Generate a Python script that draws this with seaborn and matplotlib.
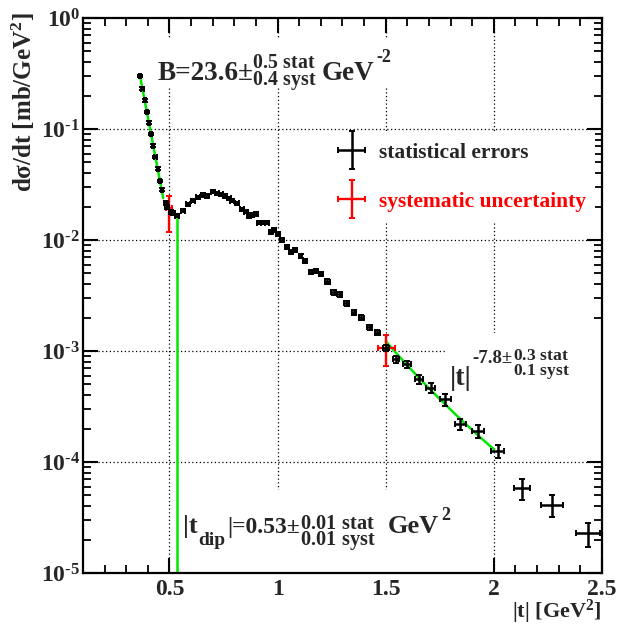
import numpy as np
import matplotlib
matplotlib.use("Agg")
import matplotlib.pyplot as plt
import seaborn as sns
from matplotlib.patches import Rectangle
from matplotlib.container import ErrorbarContainer
from matplotlib.legend_handler import HandlerErrorbar
from matplotlib.ticker import FixedLocator, FuncFormatter, LogLocator, MultipleLocator, NullFormatter

##################################  DATA  #####################################

# |t| [GeV^2] bin centres and d(sigma)/dt [mb/GeV^2]
t_vals = [0.365, 0.375, 0.385, 0.395, 0.405, 0.415, 0.425, 0.435, 0.445, 0.455, 0.465,
          0.483, 0.489, 0.506, 0.515, 0.534, 0.562, 0.585, 0.608, 0.631, 0.654,
          0.672, 0.700, 0.719, 0.737, 0.756, 0.774, 0.788, 0.811, 0.834, 0.853,
          0.866, 0.880, 0.899, 0.913, 0.931, 0.950,
          0.968, 0.983, 1.002, 1.022, 1.043, 1.060, 1.082, 1.106, 1.128, 1.153, 1.179, 1.202,
          1.230, 1.259, 1.287, 1.320, 1.353, 1.387, 1.425, 1.461,
          1.502,
          1.548, 1.599, 1.653, 1.707, 1.775, 1.845, 1.925, 2.017, 2.128, 2.267, 2.436]
dsig_vals = [0.300, 0.231, 0.181, 0.143, 0.114, 0.090, 0.071, 0.056, 0.044, 0.034, 0.0285,
             0.0216, 0.0198, 0.0179, 0.0174, 0.0166, 0.0184, 0.0210, 0.0226, 0.0243, 0.0254,
             0.0249, 0.0272, 0.0263, 0.0258, 0.0249, 0.0237, 0.0226, 0.0214, 0.0189, 0.0180,
             0.0164, 0.0168, 0.0172, 0.0143, 0.0143, 0.0143,
             0.0119, 0.0123, 0.0113, 0.0100, 0.0087, 0.00785, 0.00813, 0.00718, 0.00651, 0.00512, 0.00526, 0.00494,
             0.00421, 0.00338, 0.00324, 0.00269, 0.00221, 0.00200, 0.00163, 0.00146,
             0.00107,
             0.000841, 0.000759, 0.000556, 0.000467, 0.000367, 0.000219, 0.000191, 0.000126,
             5.8e-5, 4.1e-5, 2.28e-5]
# bin half widths [GeV^2]
t_halfwidth = ([0.005] * 11 + [0.009] * 26 + [0.009] * 12 + [0.011] * 8 + [0.013] +
               [0.014, 0.017, 0.018, 0.021, 0.025, 0.025, 0.028, 0.031, 0.037, 0.051, 0.055])
# statistical errors [%]
stat_err_pct = ([2.5] * 11 + [3.5] * 26 + [4.0] * 12 + [5.5] * 8 + [6.0] +
                [6.5, 8.0, 9.5, 10.5, 12.5, 12.0, 13.0, 14.0, 21.0, 22.0, 25.0])

# systematic uncertainty examples
syst_t = [0.497, 1.502]
syst_dsig = [0.0194, 0.00107]
syst_low = [0.0118, 0.000733]
syst_high = [0.0249, 0.00139]
syst_t_halfwidth = [0.015, 0.040]

# fit results
B_slope = 23.6
exp_amp = 1600.0
exp_range = (0.363, 0.471)
t_dip = 0.534
dsig_at_dip = 0.0165
pow_index = 7.8
pow_amp = 0.029
pow_range = (1.5, 2.0)

x_ticks = [0.5, 1.0, 1.5, 2.0, 2.5]
x_tick_labels = ["0.5", "1", "1.5", "2", "2.5"]
y_decades = [-5, -4, -3, -2, -1, 0]

# annotation pieces: (text, x px, baseline px, size) - stacked errors as one mathtext
b_label = [("B=23.6±", 158, 80, 19.5), (r"$^{0.5\ stat}_{0.4\ syst}$", 252, 80, 20.5),
           ("GeV", 322, 80, 19.5), ("-2", 376, 62, 13)]
dip_label = [("|t", 183, 533, 19), ("dip", 198, 545, 14), ("|=0.53±", 227, 533, 17),
             (r"$^{0.01\ stat}_{0.01\ syst}$", 300, 540, 21),
             ("GeV", 388, 533, 19), ("2", 441, 520, 13)]
pow_label = [("|t|", 450, 385, 20), ("-7.8±", 472, 363, 13.5),
             (r"$^{0.3\ stat}_{0.1\ syst}$", 513, 371, 18)]

W, H = 618, 625

##################################  STYLE  ####################################

sns.set_style("ticks")
plt.rcParams.update({
    "font.family": ["Liberation Serif", "DejaVu Serif"],
    "font.weight": "bold",
    "mathtext.fontset": "custom",
    "mathtext.rm": "Liberation Serif:bold",
    "mathtext.it": "Liberation Serif:bold",
    "mathtext.bf": "Liberation Serif:bold",
    "mathtext.default": "bf",
    "axes.linewidth": 1.6,
    "axes.edgecolor": "black",
})

fig = plt.figure(figsize=(W / 100, H / 100), dpi=100)
ax = fig.add_axes([0.1343, 0.0832, 0.8398, 0.888])
ax.set_yscale("log")
ax.set_xlim(0.1, 2.5)
ax.set_ylim(10.0 ** y_decades[0], 10.0 ** y_decades[-1])

# dotted grid under everything (ticks stay on top)
for xv in x_ticks[:-1]:
    ax.axvline(xv, color="black", lw=0.9, ls=(0, (1, 2)), zorder=0.5)
for d in y_decades[1:-1]:
    ax.axhline(10.0 ** d, color="black", lw=0.9, ls=(0, (1, 2)), zorder=0.5)

# white boxes behind the text panels
for (x0, y0, w, h) in [(0.11, 0.874, 0.495, 0.09), (0.177, 0.0, 0.598, 0.15), (0.701, 0.227, 0.299, 0.205)]:
    ax.add_patch(Rectangle((x0, y0), w, h, transform=ax.transAxes, fc="white", ec="none", zorder=1))

# fits
green = "#00e600"
t_exp = np.linspace(exp_range[0], exp_range[1], 60)
sns.lineplot(x=t_exp, y=exp_amp * np.exp(-B_slope * t_exp), color=green, lw=1.8, ax=ax, zorder=2)
ax.vlines(t_dip, 10.0 ** y_decades[0], dsig_at_dip, color=green, lw=1.8, zorder=2)
t_pow = np.linspace(pow_range[0], pow_range[1], 60)
sns.lineplot(x=t_pow, y=pow_amp * t_pow ** (-pow_index), color=green, lw=1.8, ax=ax, zorder=2)

# points
t = np.array(t_vals)
dsig = np.array(dsig_vals)
stat_err = dsig * np.array(stat_err_pct) / 100.0
s_dsig = np.array(syst_dsig)
syst = ax.errorbar(syst_t, s_dsig, xerr=syst_t_halfwidth,
                   yerr=[s_dsig - np.array(syst_low), np.array(syst_high) - s_dsig],
                   fmt="none", ecolor="red", elinewidth=1.7, capsize=2, capthick=1.4, zorder=3)
stat = ax.errorbar(t, dsig, xerr=t_halfwidth, yerr=stat_err, fmt="none", ecolor="black",
                   elinewidth=1.8, capsize=2, capthick=1.4, zorder=4)

# ticks
ax.xaxis.set_major_locator(FixedLocator(x_ticks))
ax.set_xticklabels(x_tick_labels)
ax.xaxis.set_minor_locator(MultipleLocator(0.1))
ax.yaxis.set_major_locator(LogLocator(base=10, numticks=12))
ax.yaxis.set_major_formatter(FuncFormatter(
    lambda v, _: r"10$^{0}$" if round(np.log10(v)) == 0 else r"10$^{\text{-}%d}$" % -round(np.log10(v))))
ax.yaxis.set_minor_locator(LogLocator(base=10, subs=np.arange(2, 10), numticks=12))
ax.yaxis.set_minor_formatter(NullFormatter())
ax.tick_params(which="both", direction="in", top=True, right=True, color="black")
ax.tick_params(which="major", length=11, width=1.5, labelsize=17)
ax.tick_params(which="minor", length=5.5, width=1.3)
ax.tick_params(axis="x", which="major", pad=4)
ax.tick_params(axis="y", which="major", pad=2)

# fit annotations, piece by piece (ROOT style stacked errors)
for pieces in (b_label, dip_label, pow_label):
    for (txt, xp, yp, size) in pieces:
        fig.text(xp / W, 1 - yp / H, txt, fontsize=size, fontweight="bold",
                 ha="left", va="baseline", zorder=5)

fig.text(23 / W, 1 - 12 / H, r"d$\sigma$/dt [mb/GeV$^{2}$]", rotation=90,
         ha="center", va="top", fontsize=18, fontweight="bold")
fig.text(602 / W, 1 - 612 / H, r"|t| [GeV$^{2}$]", ha="right", va="center",
         fontsize=16, fontweight="bold")

# legend
leg = ax.legend(handles=[stat, syst], labels=["statistical errors", "systematic uncertainty"],
                loc="upper left", bbox_to_anchor=((328 - 83) / 519, 1 - (133 - 18) / 555),
                frameon=True, fancybox=False, edgecolor="none", facecolor="white", framealpha=1,
                prop={"size": 15.5, "weight": "bold"}, numpoints=1, handlelength=1.3,
                handletextpad=0.6, labelspacing=1.35, borderpad=0.45, borderaxespad=0,
                handler_map={ErrorbarContainer: HandlerErrorbar(xerr_size=0.63, yerr_size=0.88)})
leg.set_zorder(6)
for txt in leg.get_texts():
    txt.set_fontweight("bold")
leg.get_texts()[1].set_color("red")

fig.savefig("out.png", dpi=100)
